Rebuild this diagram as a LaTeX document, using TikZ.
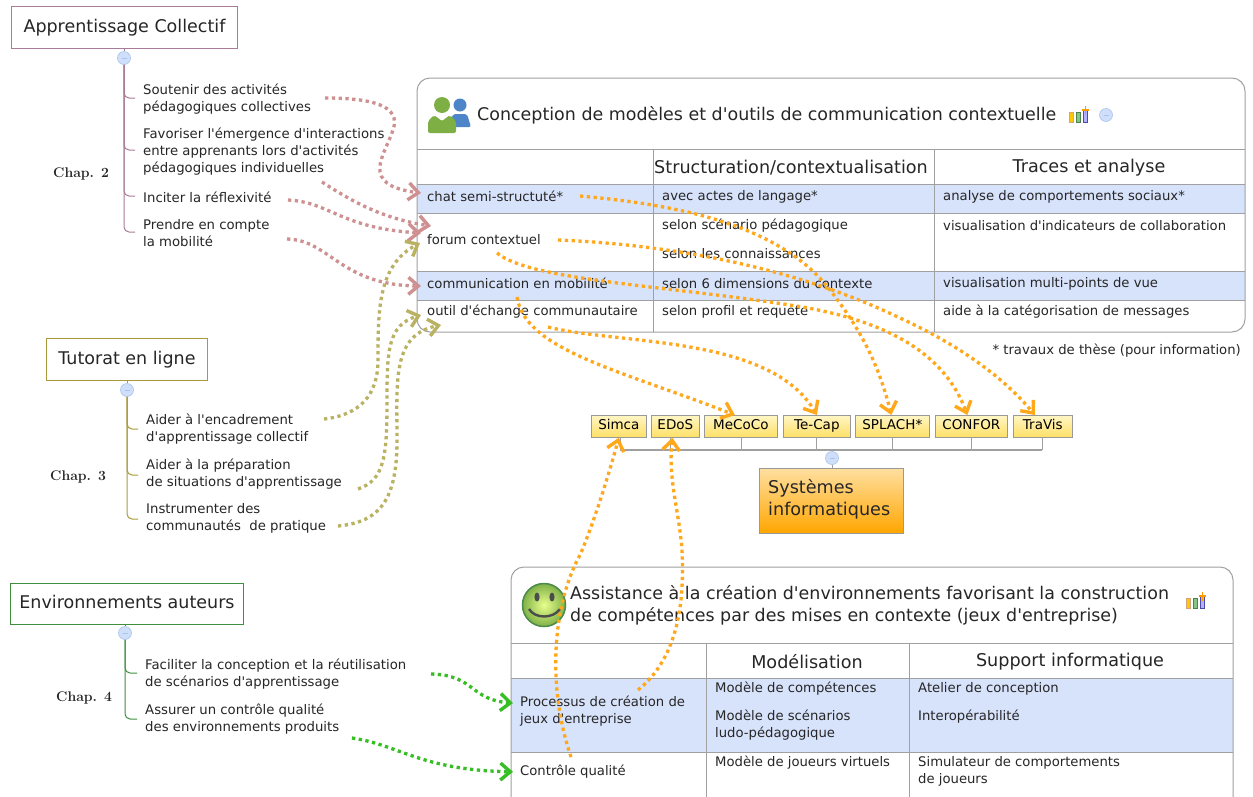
\documentclass[tikz,border=0pt]{standalone}
\usepackage{fontspec}
\usetikzlibrary{arrows.meta,calc,positioning}
\newfontfamily\lucida{DejaVu Sans}
\definecolor{txt}{HTML}{262626}
\definecolor{grid}{HTML}{A0A0A0}
\definecolor{rowblue}{HTML}{D7E2FB}
\definecolor{mauve}{HTML}{A87C98}
\definecolor{mauvedot}{HTML}{CE9090}
\definecolor{khaki}{HTML}{A89A3C}
\definecolor{khakidot}{HTML}{B9B263}
\definecolor{greenb}{HTML}{3F8F3F}
\definecolor{greendot}{HTML}{36BE24}
\definecolor{orangedot}{HTML}{FFA81C}
\definecolor{togglefill}{HTML}{CFDFF9}
\definecolor{toggleline}{HTML}{A9C5EE}
\definecolor{sysorange}{HTML}{FFA600}
\definecolor{systop}{HTML}{FFDFA0}
\definecolor{ytop}{HTML}{FFF6C4}
\definecolor{ybot}{HTML}{FFE066}
\definecolor{persgreen}{HTML}{7DAF45}
\definecolor{persblue}{HTML}{4E85C9}
\tikzset{
 body/.style={font=\lucida\fontsize{13.25}{17}\selectfont,text=txt,anchor=west,align=left,inner sep=0pt,yshift=-.8pt},
 cell/.style={font=\lucida\fontsize{13.2}{17}\selectfont,text=txt,anchor=west,align=left,inner sep=0pt,yshift=-.8pt},
 head/.style={font=\lucida\fontsize{17.6}{22}\selectfont,text=txt,inner sep=0pt,yshift=-.8pt},
 title/.style={font=\lucida\fontsize{17.45}{22}\selectfont,text=txt,anchor=west,align=left,inner sep=0pt},
 topic/.style={draw=#1,line width=1pt,fill=white,font=\lucida\fontsize{17.5}{20}\selectfont,text=txt,anchor=north west,inner sep=0pt,align=center,text height=13pt,text depth=4pt},
 chap/.style={font=\bfseries\fontsize{14}{16}\selectfont,text=txt,anchor=west,inner sep=0pt},
 sysbox/.style={draw=gray!80,line width=.7pt,top color=systop,bottom color=sysorange,anchor=north west,inner sep=0pt},
 tool/.style={draw=gray!80,line width=.7pt,top color=ytop,bottom color=ybot,anchor=north west,inner sep=0pt,font=\lucida\fontsize{13.5}{14}\selectfont,text=black,text height=10pt,text depth=3pt},
 toggle/.style={circle,draw=toggleline,fill=togglefill,minimum size=13pt,inner sep=0pt,line width=.6pt},
 branch/.style={draw=#1,line width=1pt,rounded corners=5pt},
 link/.style={draw=#1,line width=3.3pt,dash pattern=on 3.3pt off 3.5pt,
   -{Straight Barb[length=10pt,width=17pt,line width=3.4pt]}},
 frame/.style={draw=grid,line width=1pt,rounded corners=13pt},
 rule/.style={draw=grid,line width=1pt},
}
\newcommand{\togglemark}[1]{\draw[toggleline,line width=.7pt] ([xshift=-2.5pt]#1.center) -- ([xshift=2.5pt]#1.center);}
\newcommand{\charticon}[2]{%
 \begin{scope}[shift={(#1,#2)}]
  \fill[yellow!60!orange,draw=brown!70,line width=.4pt] (0,0) rectangle (4.5,10);
  \fill[green!35!gray!70,draw=green!30!black!70,line width=.4pt] (7,0) rectangle (11,10);
  \fill[blue!30!white,draw=blue!50!black!70,line width=.4pt] (14,-2) rectangle (18.5,10);
  \draw[orange!80!yellow,line width=1.3pt] (16.3,-6) -- (16.3,3) (12.5,-2) -- (20,-2);
 \end{scope}}
\begin{document}
\begin{tikzpicture}[x=1pt,y=-1pt]
\useasboundingbox (0,0) rectangle (1253,796);
\fill[white] (0,0) rectangle (1253,796);

% ---- Table 1
\fill[rowblue] (417,184) rectangle (1245,213);
\fill[rowblue] (417,271) rectangle (1245,300);
\draw[frame] (417,78) rectangle (1245,332);
\foreach \yy in {149,184,213,271,300} \draw[rule] (417,\yy) -- (1245,\yy);
\draw[rule] (653,149) -- (653,332);
\draw[rule] (934,149) -- (934,332);
% people icon
\fill[persblue] (460,105) circle (6.5);
\fill[persblue,rounded corners=2pt] (449,127) -- (453,114) -- (467,114) -- (471,127) -- cycle;
\fill[persgreen] (442,105) circle (8);
\fill[persgreen,rounded corners=2pt] (428,133) -- (428,121) -- (434,115) -- (442,121) -- (450,115) -- (456,121) -- (456,133) -- cycle;
\fill[white] (436,115.5) -- (442,120.5) -- (448,115.5) -- cycle;
\node[title] (t1) at (477,115) {Conception de modèles et d'outils de communication contextuelle};
\charticon{1069}{112}
\node[toggle] (tg1) at (1106,115) {};
\togglemark{tg1}
\node[head] (h12) at (791,167) {Structuration/contextualisation};
\node[head] (h13) at (1089,167) {Traces et analyse};
\node[cell] (chat) at (427,196) {chat semi-structuté*};
\node[cell] (forum) at (427,239) {forum contextuel};
\node[cell] (comm) at (427,283) {communication en mobilité};
\node[cell] (outil) at (427,311) {outil d'échange communautaire};
\node[cell] (c1) at (662,196) {avec actes de langage*};
\node[cell] (c2) at (662,225) {selon scénario pédagogique};
\node[cell] (c3) at (662,253) {selon les connaissances};
\node[cell] (c4) at (662,283) {selon 6 dimensions du contexte};
\node[cell] (c5) at (662,311) {selon profil et requete};
\node[cell] (d1) at (943,196) {analyse de comportements sociaux*};
\node[cell] (d2) at (943,225) {visualisation d'indicateurs de collaboration};
\node[cell] (d3) at (943,283) {visualisation multi-points de vue};
\node[cell] (d4) at (943,311) {aide à la catégorisation de messages};
\node[cell,anchor=east] (note) at (1241,350) {* travaux de thèse (pour information)};

% ---- Systems
\node[sysbox,minimum width=144pt,minimum height=65pt] (si) at (759,468) {};
\node[font=\lucida\fontsize{17.6}{22}\selectfont,text=txt,align=left,anchor=west,inner sep=0pt] (silab) at (768,499) {Systèmes\\informatiques};
\foreach \nm/\lab/\xa/\bw in {simca/Simca/591/55,edos/EDoS/651/48,mecoco/MeCoCo/704/73,tecap/Te-Cap/783/67,splach/SPLACH*/855/74,confor/CONFOR/935/72,travis/TraVis/1013/59}{
  \node[tool,minimum width=\bw pt,minimum height=22pt] (\nm) at (\xa,415) {\lab};
}
\draw[grid,line width=1.2pt] (620,450) -- (1042,450);
\draw[grid,line width=1pt] (620,437) -- (620,450) (670,437) -- (670,450) (741,437) -- (741,450) (816,437) -- (816,450) (892,437) -- (892,450) (971,437) -- (971,450) (1042,437) -- (1042,450);
\draw[grid,line width=1pt] (832,450) -- (832,468);
\node[toggle] (tg2) at (832,458) {};
\togglemark{tg2}

% ---- Table 2
\fill[rowblue] (511,678) rectangle (1233,752);
\draw[frame] (511,567) rectangle (1233,812);
\foreach \yy in {643,678,752} \draw[rule] (511,\yy) -- (1233,\yy);
\draw[rule] (706,643) -- (706,800);
\draw[rule] (909,643) -- (909,800);
\shade[inner color=green!20!yellow!45!white,outer color=persgreen] (544,605) circle (22);
\draw[green!35!black!70,line width=1.5pt] (544,605) circle (21.5);
\fill[black!70] (537,597) ellipse (2.6 and 4.5);
\fill[black!70] (552,597) ellipse (2.6 and 4.5);
\draw[black!70,line width=2.4pt] (529,609) .. controls (535,619) and (553,619) .. (560,609);
\node[title] (t2) at (570,605) {Assistance à la création d'environnements favorisant la construction\\de compétences par des mises en contexte (jeux d'entreprise)};
\charticon{1186}{598}
\node[head] (h22) at (807,661) {Modélisation};
\node[head] (h23) at (1070,661) {Support informatique};
\node[cell] (proc) at (520,710.5) {Processus de création de\\jeux d'entreprise};
\node[cell] (ctrl) at (520,771) {Contrôle qualité};
\node[cell] (e1) at (715,688) {Modèle de compétences};
\node[cell] (e2) at (715,724.5) {Modèle de scénarios\\ludo-pédagogique};
\node[cell] (e3) at (715,762) {Modèle de joueurs virtuels};
\node[cell] (f1) at (918,688) {Atelier de conception};
\node[cell] (f2) at (918,716) {Interopérabilité};
\node[cell] (f3) at (918,770.5) {Simulateur de comportements\\de joueurs};

% ---- Left: Apprentissage Collectif
\node[topic=mauve,minimum width=226pt,minimum height=42pt] (ac) at (11,6) {Apprentissage Collectif};
\node[toggle] (tg3) at (124,58) {};
\draw[mauve,line width=1pt] (ac.south -| tg3) -- (tg3.north);
\draw[branch=mauve] (tg3.south) -- (124,98) -- (135,98);
\draw[branch=mauve] (tg3.south) -- (124,150) -- (135,150);
\draw[branch=mauve] (tg3.south) -- (124,196) -- (135,196);
\draw[branch=mauve] (tg3.south) -- (124,232) -- (135,232);
\togglemark{tg3}
\node[body] (a1) at (143,98.5) {Soutenir des activités\\pédagogiques collectives};
\node[body] (a2) at (143,151) {Favoriser l'émergence d'interactions\\entre apprenants lors d'activités\\pédagogiques individuelles};
\node[body] (a3) at (143,196) {Inciter la réflexivité};
\node[body] (a4) at (143,232.5) {Prendre en compte\\la mobilité};
\node[chap] (ch2) at (53,174) {Chap. \oldstylenums{2}};

% ---- Left: Tutorat
\node[topic=khaki,minimum width=161pt,minimum height=42pt] (tl) at (46,338) {Tutorat en ligne};
\node[toggle] (tg4) at (127,390) {};
\draw[khaki,line width=1pt] (tl.south -| tg4) -- (tg4.north);
\draw[branch=khaki] (tg4.south) -- (127,429) -- (138,429);
\draw[branch=khaki] (tg4.south) -- (127,475) -- (138,475);
\draw[branch=khaki] (tg4.south) -- (127,519) -- (138,519);
\togglemark{tg4}
\node[body] (b1) at (146,428.5) {Aider à l'encadrement\\d'apprentissage collectif};
\node[body] (b2) at (146,473) {Aider à la préparation\\de situations d'apprentissage};
\node[body] (b3) at (146,517.5) {Instrumenter des\\communautés\ \ de pratique};
\node[chap] (ch3) at (50,477) {Chap. \oldstylenums{3}};

% ---- Left: Environnements
\node[topic=greenb,minimum width=233pt,minimum height=41pt] (ea) at (10,583) {Environnements auteurs};
\node[toggle] (tg5) at (125,633) {};
\draw[greenb,line width=1pt] (ea.south -| tg5) -- (tg5.north);
\draw[branch=greenb] (tg5.south) -- (125,673) -- (137,673);
\draw[branch=greenb] (tg5.south) -- (125,719) -- (137,719);
\togglemark{tg5}
\node[body] (g1) at (145,673) {Faciliter la conception et la réutilisation\\de scénarios d'apprentissage};
\node[body] (g2) at (145,718) {Assurer un contrôle qualité\\des environnements produits};
\node[chap] (ch4) at (56,698) {Chap. \oldstylenums{4}};

% ---- connector start points
\coordinate (oa1) at (325,98);
\coordinate (oa2) at (322,182);
\coordinate (oa3) at (288,200);
\coordinate (oa4) at (287,239);
\coordinate (ob1) at (324,419);
\coordinate (ob2) at (358,489);
\coordinate (ob3) at (338,526);
\coordinate (og1) at (431,674);
\coordinate (og2) at (352,738);
\coordinate (ochat) at (580,196);
\coordinate (oforum) at (558,240);
\coordinate (oforumb) at (497,253);
\coordinate (ocomm) at (517,297);
\coordinate (ooutil) at (548,327);
\coordinate (octrl) at (571,757);
\coordinate (oproc) at (638,690);
\coordinate (ea1) at (421,193);
\coordinate (ea2) at (431,226);
\coordinate (ea3) at (421,233);
\coordinate (ea4) at (421,286);
\coordinate (eb1) at (420,243);
\coordinate (eb2) at (421,315);
\coordinate (eb3) at (441,325);
\coordinate (eg1) at (513,703);

% ---- connectors
\draw[link=mauvedot] (oa1) .. controls (370,98) and (402,105) .. (393,130) .. controls (385,155) and (358,185) .. (ea1);
\draw[link=mauvedot] (oa2) .. controls (350,200) and (380,218) .. (ea2);
\draw[link=mauvedot] (oa3) .. controls (330,202) and (340,228) .. (ea3);
\draw[link=mauvedot] (oa4) .. controls (330,240) and (340,285) .. (ea4);
\draw[link=khakidot] (ob1) .. controls (360,415) and (378,395) .. (378,360) .. controls (378,310) and (378,265) .. (eb1);
\draw[link=khakidot] (ob2) .. controls (385,480) and (387,455) .. (387,400) .. controls (387,350) and (388,325) .. (eb2);
\draw[link=khakidot] (ob3) .. controls (380,522) and (397,500) .. (397,440) .. controls (397,380) and (392,335) .. (eb3);
\draw[link=orangedot] (ochat) .. controls (680,205) and (780,225) .. (830,290) .. controls (865,335) and (880,370) .. ([xshift=-1pt]splach.north);
\draw[link=orangedot] (oforum) .. controls (680,245) and (800,270) .. (900,318) .. controls (970,350) and (1010,385) .. ([xshift=-8pt]travis.north);
\draw[link=orangedot] (oforumb) .. controls (530,280) and (660,285) .. (790,305) .. controls (890,320) and (945,355) .. ([xshift=-4pt]confor.north);
\draw[link=orangedot] (ocomm) .. controls (525,350) and (620,370) .. ([xshift=-6pt]mecoco.north);
\draw[link=orangedot] (ooutil) .. controls (620,345) and (770,335) .. (tecap.north);
\draw[link=orangedot] (octrl) .. controls (545,680) and (555,600) .. (580,555) .. controls (595,520) and (610,470) .. (simca.south);
\draw[link=orangedot] (oproc) .. controls (675,660) and (685,610) .. (682,550) .. controls (679,510) and (668,480) .. ([xshift=-3pt]edos.south);
\draw[link=greendot] (og1) .. controls (475,675) and (470,700) .. (eg1);
\draw[link=greendot] (og2) .. controls (400,745) and (420,770) .. ([xshift=-7pt]ctrl.west);
\end{tikzpicture}
\end{document}
